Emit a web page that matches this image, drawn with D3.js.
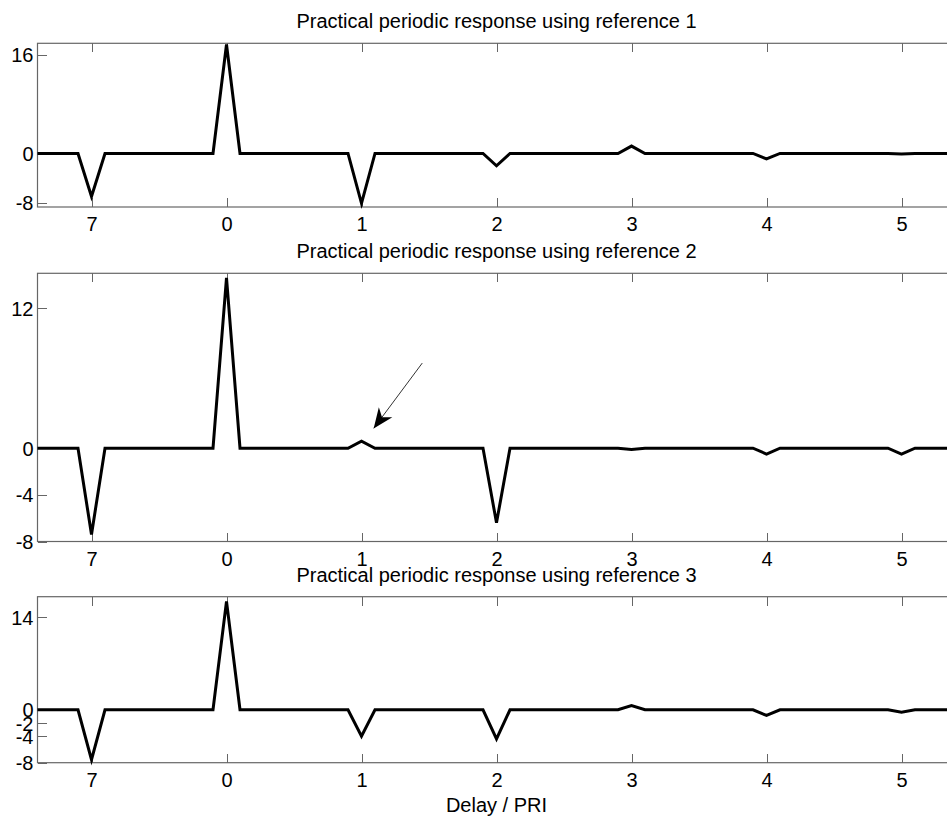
<!DOCTYPE html>
<html lang="en">
<head>
<meta charset="utf-8">
<script src="https://d3js.org/d3.v7.min.js"></script>
<style type="text/css">
    body {
        margin: 0;
        background-color: #ffffff;
        font-family: "Liberation Sans", Arial, sans-serif;
    }
    svg { display: block; }
    .axis text {
        font: 20px "Liberation Sans", Arial, sans-serif;
        fill: #000;
    }
    .axis line { stroke: #666; shape-rendering: crispEdges; }
    .axis path { display: none; }
    .title { font-size: 20px; fill: #000; text-anchor: middle; }
</style>
</head>
<body>
<script type="text/javascript">
// delay samples (in PRI), shared by all three responses
var delays = [-1.4, -1.1, -1, -0.9, -0.1, 0, 0.1, 0.9, 1, 1.1, 1.9, 2, 2.1, 2.9, 3, 3.1, 3.9, 4, 4.1, 4.9, 5, 5.1, 5.4];
var ref1 = [0, 0, -7.0, 0, 0, 17.7, 0, 0, -8.1, 0, 0, -2.0, 0, 0, 1.2, 0, 0, -0.9, 0, 0, -0.1, 0, 0];
var ref2 = [0, 0, -7.4, 0, 0, 14.6, 0, 0, 0.6, 0, 0, -6.4, 0, 0, -0.1, 0, 0, -0.5, 0, 0, -0.5, 0, 0];
var ref3 = [0, 0, -7.55, 0, 0, 16.4, 0, 0, -4.0, 0, 0, -4.4, 0, 0, 0.65, 0, 0, -0.85, 0, 0, -0.35, 0, 0];

// x ticks: delay -1 wraps around to 7
var xTicks = [-1, 0, 1, 2, 3, 4, 5];
var xTickLabels = ["7", "0", "1", "2", "3", "4", "5"];

var titles = ["Practical periodic response using reference 1",
              "Practical periodic response using reference 2",
              "Practical periodic response using reference 3"];
var yTicks = [[-8, 0, 16], [-8, -4, 0, 12], [-8, -4, -2, 0, 14]];
var yDomains = [[-8.7, 17.9], [-8, 15], [-8, 17.1]];
var series = [ref1, ref2, ref3];

// arrow in panel 2 (data coords): tail -> tip
var arrowFrom = [1.45, 7.3];
var arrowTo = [1.09, 1.7];

var width = 947, height = 817;
var panels = [
    {top: 43.3, bottom: 207, titleY: 27.5},
    {top: 273.3, bottom: 541.5, titleY: 258.3},
    {top: 596.7, bottom: 762.7, titleY: 581.7}
];

var svg = d3.select("body").append("svg")
    .attr("width", width)
    .attr("height", height);

svg.append("defs").append("marker")
    .attr("id", "head")
    .attr("viewBox", "0 0 10 10")
    .attr("refX", 10).attr("refY", 5)
    .attr("markerWidth", 20).attr("markerHeight", 20)
    .attr("markerUnits", "userSpaceOnUse")
    .attr("orient", "auto")
  .append("path")
    .attr("d", "M0,0.8 L10,5 L0,9.2 L3,5 Z")
    .attr("fill", "#000");

var x = d3.scaleLinear().domain([-1.4, 5.4]).range([37.5, 955.5]);

panels.forEach(function(p, i) {
    var y = d3.scaleLinear().domain(yDomains[i]).range([p.bottom, p.top]);
    var g = svg.append("g");

    // title
    g.append("text")
        .attr("class", "title")
        .attr("x", (x.range()[0] + x.range()[1]) / 2)
        .attr("y", p.titleY)
        .text(titles[i]);

    // axes with inward ticks on all four sides
    var fmt = function(d) { return xTickLabels[xTicks.indexOf(d)]; };
    g.append("g").attr("class", "axis")
        .attr("transform", "translate(0," + p.bottom + ")")
        .call(d3.axisBottom(x).tickValues(xTicks).tickFormat(fmt)
            .tickSize(-9).tickPadding(0))
        .selectAll("text").attr("y", 24).attr("dy", null);
    g.append("g").attr("class", "axis")
        .attr("transform", "translate(0," + p.top + ")")
        .call(d3.axisTop(x).tickValues(xTicks).tickFormat("").tickSize(-9));
    g.append("g").attr("class", "axis")
        .attr("transform", "translate(" + x.range()[0] + ",0)")
        .call(d3.axisLeft(y).tickValues(yTicks[i])
            .tickFormat(function(d) { return String(d); })
            .tickSize(-9).tickPadding(4))
        .selectAll("text").attr("x", -4).attr("dy", "0.35em");
    g.append("g").attr("class", "axis")
        .attr("transform", "translate(" + x.range()[1] + ",0)")
        .call(d3.axisRight(y).tickValues(yTicks[i]).tickFormat("").tickSize(-9));

    // box
    g.append("rect")
        .attr("x", x.range()[0]).attr("y", p.top)
        .attr("width", x.range()[1] - x.range()[0])
        .attr("height", p.bottom - p.top)
        .attr("fill", "none")
        .attr("stroke", "#666")
        .attr("stroke-width", 1.2);

    // response line
    var line = d3.line()
        .x(function(d, k) { return x(delays[k]); })
        .y(function(d) { return y(d); });
    g.append("path")
        .datum(series[i])
        .attr("d", line)
        .attr("fill", "none")
        .attr("stroke", "#000")
        .attr("stroke-width", 3);

    if (i === 1) {
        g.append("line")
            .attr("x1", x(arrowFrom[0])).attr("y1", y(arrowFrom[1]))
            .attr("x2", x(arrowTo[0])).attr("y2", y(arrowTo[1]))
            .attr("stroke", "#333")
            .attr("stroke-width", 1)
            .attr("marker-end", "url(#head)");
    }
});

svg.append("text")
    .attr("class", "title")
    .attr("x", (x.range()[0] + x.range()[1]) / 2)
    .attr("y", 811.7)
    .text("Delay / PRI");
</script>
</body>
</html>
